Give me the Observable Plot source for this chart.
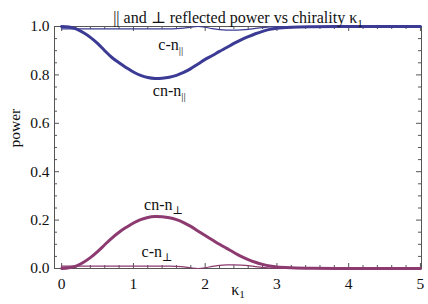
<!DOCTYPE html>
<html>
<head>
<meta charset="utf-8">
<script src="https://cdn.jsdelivr.net/npm/d3@7"></script>
<script src="https://cdn.jsdelivr.net/npm/@observablehq/plot@0.6"></script>
<style>
  html, body { margin: 0; padding: 0; background: #fff; }
</style>
</head>
<body>
<div id="chart"></div>
<script>
// ---- data ----
const kappa   = [0,0.1,0.2,0.3,0.4,0.5,0.6,0.7,0.8,0.9,1.0,1.1,1.2,1.3,1.4,1.5,1.6,1.7,1.8,1.9,2.0,2.1,2.2,2.3,2.4,2.5,2.6,2.7,2.8,2.9,3.0,3.2,3.5,4.0,4.5,5.0];
const cnPar   = [1.0,0.998,0.99,0.975,0.955,0.93,0.9,0.872,0.85,0.83,0.812,0.798,0.789,0.785,0.786,0.79,0.798,0.81,0.826,0.845,0.864,0.88,0.897,0.913,0.93,0.945,0.958,0.97,0.98,0.988,0.993,0.997,0.999,1.0,1.0,1.0];
const cnPerp  = [0.0,0.003,0.01,0.025,0.045,0.07,0.098,0.126,0.15,0.17,0.188,0.202,0.211,0.215,0.214,0.21,0.202,0.19,0.174,0.155,0.136,0.118,0.1,0.083,0.066,0.05,0.037,0.026,0.017,0.01,0.006,0.003,0.001,0.0,0.0,0.0];
const cPar    = [0.99,0.99,0.99,0.99,0.99,0.99,0.99,0.99,0.99,0.99,0.99,0.99,0.99,0.99,0.99,0.99,0.991,0.993,0.997,1.0,0.997,0.991,0.987,0.985,0.985,0.986,0.988,0.992,0.995,0.998,0.999,1.0,1.0,1.0,1.0,1.0];
const cPerp   = [0.01,0.01,0.01,0.01,0.01,0.01,0.01,0.01,0.01,0.01,0.01,0.01,0.01,0.01,0.01,0.01,0.009,0.007,0.003,0.0,0.003,0.009,0.013,0.015,0.015,0.014,0.012,0.008,0.005,0.002,0.001,0.0,0.0,0.0,0.0,0.0];

const xMajor = [0,1,2,3,4,5];
const xMinor = d3.range(0, 5.0001, 0.2).map(v => +v.toFixed(2)).filter(v => Math.abs(v - Math.round(v)) > 1e-6);
const yMajor = [0,0.2,0.4,0.6,0.8,1.0];
const yMinor = d3.range(0, 1.0001, 0.05).map(v => +v.toFixed(2)).filter(v => Math.abs(v*5 - Math.round(v*5)) > 1e-6);

const labelText = ["c-n_||", "cn-n_||", "cn-n_⊥", "c-n_⊥"];
const labelK    = [1.52, 1.5, 1.42, 1.33];
const labelP    = [0.925, 0.735, 0.262, 0.068];
const labelSeries = ["par", "par", "perp", "perp"];

const titleText = "|| and ⊥ reflected power vs chirality κ_1";
const xLabel = "κ_1";
const yLabel = "power";

// ---- build tables ----
const mk = (vals) => kappa.map((k, i) => ({k, p: vals[i]}));
const labels = labelText.map((t, i) => ({t, k: labelK[i], p: labelP[i], s: labelSeries[i]}));

const BLUE = "#3b3b96";
const MAG = "#8c3a70";
const FRAME = "#555";
const innerH = 304 - 26 - 36;
const innerW = 428 - 54 - 7;

const chart = Plot.plot({
  width: 428,
  height: 304,
  marginLeft: 54,
  marginRight: 7,
  marginTop: 26,
  marginBottom: 36,
  style: {fontFamily: "'Liberation Serif', 'DejaVu Serif', serif", fontSize: "15.5px", background: "white", color: "#111"},
  x: {domain: [-0.1, 5.015], ticks: xMajor, tickSize: 0, tickPadding: 9, tickFormat: d => String(d), label: null},
  y: {domain: [0, 1], ticks: yMajor, tickSize: 0, tickPadding: 5, tickFormat: d3.format(".1f"), label: null},
  marks: [
    Plot.frame({stroke: FRAME, strokeWidth: 1}),
    // inward ticks, bottom/top
    Plot.tickX(xMajor, {x: d => d, insetTop: innerH - 5, stroke: FRAME}),
    Plot.tickX(xMinor, {x: d => d, insetTop: innerH - 3, stroke: FRAME}),
    Plot.tickX(xMajor, {x: d => d, insetBottom: innerH - 5, stroke: FRAME}),
    Plot.tickX(xMinor, {x: d => d, insetBottom: innerH - 3, stroke: FRAME}),
    // inward ticks, left/right
    Plot.tickY(yMajor, {y: d => d, insetRight: innerW - 5, stroke: FRAME}),
    Plot.tickY(yMinor, {y: d => d, insetRight: innerW - 3, stroke: FRAME}),
    Plot.tickY(yMajor, {y: d => d, insetLeft: innerW - 5, stroke: FRAME}),
    Plot.tickY(yMinor, {y: d => d, insetLeft: innerW - 3, stroke: FRAME}),
    // curves
    Plot.line(mk(cPar), {x: "k", y: "p", stroke: BLUE, strokeWidth: 1.2, curve: "catmull-rom"}),
    Plot.line(mk(cPerp), {x: "k", y: "p", stroke: MAG, strokeWidth: 1.2, curve: "catmull-rom"}),
    Plot.line(mk(cnPar), {x: "k", y: "p", stroke: BLUE, strokeWidth: 3, curve: "catmull-rom"}),
    Plot.line(mk(cnPerp), {x: "k", y: "p", stroke: MAG, strokeWidth: 3, curve: "catmull-rom"}),
    // curve labels
    Plot.text(labels, {x: "k", y: "p", text: "t", fontSize: 16, fill: "#111"}),
    // title and axis labels
    Plot.text([titleText], {frameAnchor: "top", dy: -15, fontSize: 16, fill: "#111"}),
    Plot.text([xLabel], {frameAnchor: "bottom", dy: 26, fontSize: 16, fill: "#111"}),
    Plot.text([yLabel], {frameAnchor: "left", dx: -39, rotate: -90, fontSize: 15.5, fill: "#111"})
  ]
});

// subscripts: split "base_sub" into tspans
d3.select(chart).selectAll("text").each(function() {
  const el = d3.select(this);
  if (el.selectAll("tspan").size() > 0) return;
  const s = el.text();
  const i = s.lastIndexOf("_");
  if (i < 0) return;
  const base = s.slice(0, i), sub = s.slice(i + 1);
  el.text(null);
  el.append("tspan").text(base);
  el.append("tspan").attr("dy", "0.35em").attr("font-size", "0.7em").text(sub);
});

document.getElementById("chart").appendChild(chart);
</script>
</body>
</html>
